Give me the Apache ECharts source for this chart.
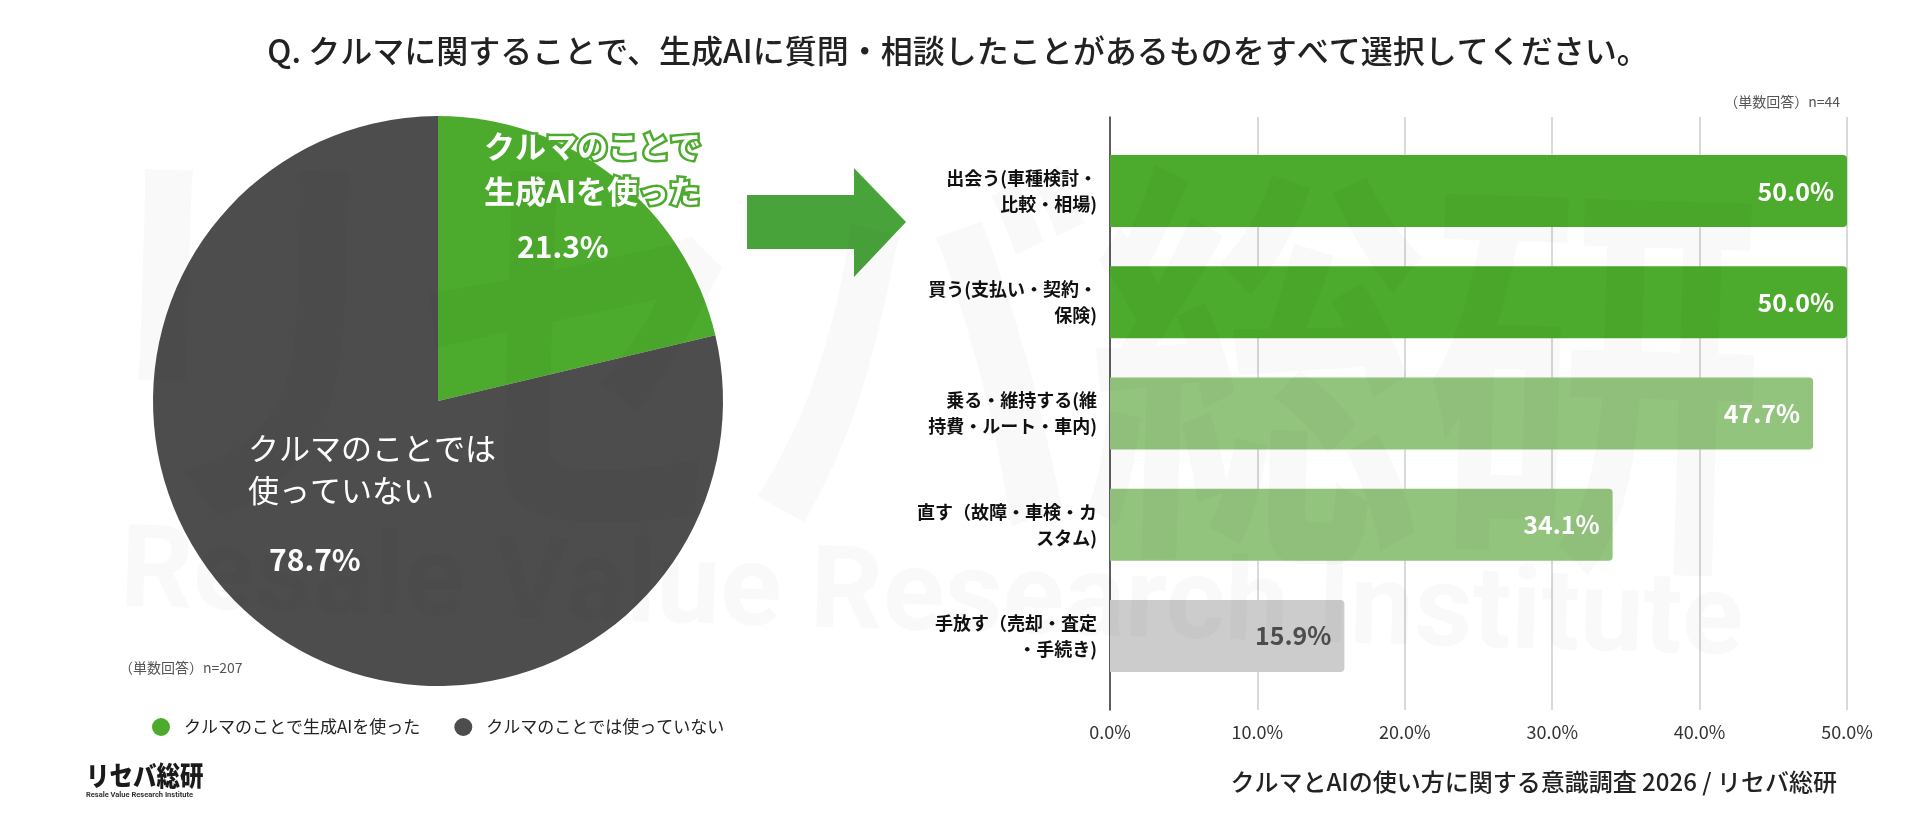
<!DOCTYPE html>
<html><head><meta charset="utf-8">
<script src="https://cdn.jsdelivr.net/npm/echarts@6/dist/echarts.min.js"></script>
<style>html,body{margin:0;padding:0;background:#fff}#c{width:1920px;height:817px}</style>
</head><body><div id="c"></div>
<script>
// ---- data ----
const titleText = 'Q. クルマに関することで、生成AIに質問・相談したことがあるものをすべて選択してください。';
const pieNames = ['クルマのことで生成AIを使った', 'クルマのことでは使っていない'];
const pieLabelNames = ['クルマのことで\n生成AIを使った', 'クルマのことでは\n使っていない'];
const pieValues = [21.3, 78.7];
const pieColors = ['#4CAA2C', '#4D4D4D'];
const barCategories = [
  '出会う(車種検討・\n比較・相場)',
  '買う(支払い・契約・\n保険)',
  '乗る・維持する(維\n持費・ルート・車内)',
  '直す（故障・車検・カ\nスタム)',
  '手放す（売却・査定\n・手続き)'
];
const barValues = [50.0, 50.0, 47.7, 34.1, 15.9];
const barColors = ['#4CAA2C', '#4CAA2C', '#93C47D', '#93C47D', '#CCCCCC'];
const barLabelColors = ['#ffffff', '#ffffff', '#ffffff', '#ffffff', '#4D4D4D'];
const xTickMax = 50, xTickStep = 10;
const pieNote = '（単数回答）n=207';
const barNote = '（単数回答）n=44';
const sourceText = 'クルマとAIの使い方に関する意識調査 2026 / リセバ総研';

const FF = "'Noto Sans CJK JP', 'Noto Sans', sans-serif";
const chart = echarts.init(document.getElementById('c'), null, {renderer: 'canvas'});

const pieLabelCfg = [
  {pos: [484, 124], rich: {n: {fontSize: 31, lineHeight: 45, fontWeight: 'bold', color: '#fff', textBorderColor: '#4CAA2C', textBorderWidth: 5, fontFamily: FF},
                            v: {fontSize: 30, lineHeight: 65, fontWeight: 'bold', color: '#fff', padding: [0, 0, 0, 33], fontFamily: FF}}},
  {pos: [248, 427], rich: {n: {fontSize: 31, lineHeight: 42, fontWeight: 'normal', color: '#fff', fontFamily: FF},
                            v: {fontSize: 30, lineHeight: 98, fontWeight: 'bold', color: '#fff', padding: [0, 0, 0, 21], fontFamily: FF}}}
];

const pieData = pieValues.map((v, i) => ({
  name: pieNames[i], value: v,
  itemStyle: {color: pieColors[i]},
  label: {
    show: true, position: 'inside',
    formatter: () => pieLabelNames[i].split('\n').map(s => '{n|' + s + '}').join('\n') + '\n{v|' + v.toFixed(1) + '%}',
    rich: pieLabelCfg[i].rich
  }
}));

const barData = barValues.map((v, i) => ({
  value: v,
  itemStyle: {color: barColors[i], borderRadius: [0, 4, 4, 0]},
  label: {color: barLabelColors[i]}
}));

const wm = 'rgba(0,0,0,0.025)';

chart.setOption({
  animation: false,
  backgroundColor: '#fff',
  textStyle: {fontFamily: FF},
  title: {
    text: titleText, left: 953, top: 30, textAlign: 'center',
    textStyle: {fontSize: 32, fontWeight: 500, color: '#222', fontFamily: FF}
  },
  legend: {
    data: pieNames, left: 147, top: 713, orient: 'horizontal',
    icon: 'circle', itemWidth: 18, itemHeight: 18, itemGap: 34,
    selectedMode: false,
    textStyle: {fontSize: 17, color: '#222', fontFamily: FF, padding: [0, 0, 0, 9]}
  },
  grid: [
    {left: 1110, width: 737, top: 117, height: 593, containLabel: false},
    {left: 1110, width: 737, top: 135.4, height: 556.2, containLabel: false}
  ],
  xAxis: [
    {gridIndex: 0, type: 'value', min: 0, max: xTickMax, interval: xTickStep,
     axisLine: {show: false}, axisTick: {show: false},
     splitLine: {show: true, lineStyle: {color: '#CCCCCC', width: 1.5}},
     axisLabel: {formatter: v => v.toFixed(1) + '%', fontSize: 18, color: '#333', margin: 13, fontFamily: FF}},
    {gridIndex: 1, type: 'value', min: 0, max: xTickMax, interval: xTickStep, show: false}
  ],
  yAxis: [
    {gridIndex: 0, type: 'value', min: 0, max: 1,
     axisLine: {show: true, lineStyle: {color: '#333', width: 1.5}},
     axisTick: {show: false}, axisLabel: {show: false}, splitLine: {show: false}},
    {gridIndex: 1, type: 'category', data: barCategories, inverse: true,
     axisLine: {show: false}, axisTick: {show: false},
     axisLabel: {fontSize: 18, fontWeight: 'bold', color: '#111', lineHeight: 26, margin: 13, align: 'right', fontFamily: FF}}
  ],
  series: [
    {
      type: 'pie', center: [438, 401], radius: 285, startAngle: 90, clockwise: true,
      data: pieData, emphasis: {disabled: true}, silent: true,
      labelLine: {show: false},
      labelLayout: function (p) {
        const c = pieLabelCfg[p.dataIndex];
        return {x: c.pos[0], y: c.pos[1], align: 'left', verticalAlign: 'top', hideOverlap: false};
      }
    },
    {
      type: 'bar', xAxisIndex: 1, yAxisIndex: 1, data: barData, barWidth: 72,
      silent: true,
      label: {show: true, position: 'insideRight', offset: [-8, 0], fontSize: 25, fontWeight: 'bold', fontFamily: FF,
              formatter: p => p.value.toFixed(1) + '%'}
    }
  ],
  graphic: [
    // arrow
    {type: 'polygon', z: 5, shape: {points: [[747, 195], [854, 195], [854, 168], [906, 222], [854, 277], [854, 249], [747, 249]]},
     style: {fill: '#49A33B'}},
    // notes
    {type: 'text', z: 5, style: {text: barNote, x: 1840, y: 102, align: 'right', verticalAlign: 'middle', fontSize: 14, fill: '#555', fontFamily: FF}},
    {type: 'text', z: 5, style: {text: pieNote, x: 119, y: 668, align: 'left', verticalAlign: 'middle', fontSize: 14, fill: '#555', fontFamily: FF}},
    {type: 'text', z: 5, style: {text: sourceText, x: 1837, y: 782, align: 'right', verticalAlign: 'middle', fontSize: 24, fontWeight: 500, fill: '#222', fontFamily: FF}},
    // logo
    {type: 'text', z: 5, x: 86, y: 776, scaleX: 0.87, style: {text: 'リセバ総研', x: 0, y: 0, align: 'left', verticalAlign: 'middle', fontSize: 27, fontWeight: 900, fill: '#1a1a1a', fontFamily: FF}},
    {type: 'text', z: 5, x: 86, y: 795, style: {text: 'Resale Value Research Institute', x: 0, y: 0, align: 'left', verticalAlign: 'middle', fontSize: 7.5, fontWeight: 'bold', fill: '#333', fontFamily: 'Roboto, sans-serif'}},
    // watermark
    {type: 'text', z: 100, silent: true, x: 80, y: 120, scaleX: 0.805, rotation: -0.03,
     style: {text: 'リセバ総研', x: 0, y: 0, align: 'left', verticalAlign: 'top', fontSize: 420, fontWeight: 'bold', fill: wm, fontFamily: FF}},
    {type: 'text', z: 100, silent: true, x: 120, y: 577, scaleX: 0.99, rotation: -0.03,
     style: {text: 'Resale Value Research Institute', x: 0, y: 0, align: 'left', verticalAlign: 'middle', fontSize: 115, fontWeight: 'bold', fill: wm, fontFamily: 'Roboto, sans-serif'}}
  ]
});
</script>
</body></html>
